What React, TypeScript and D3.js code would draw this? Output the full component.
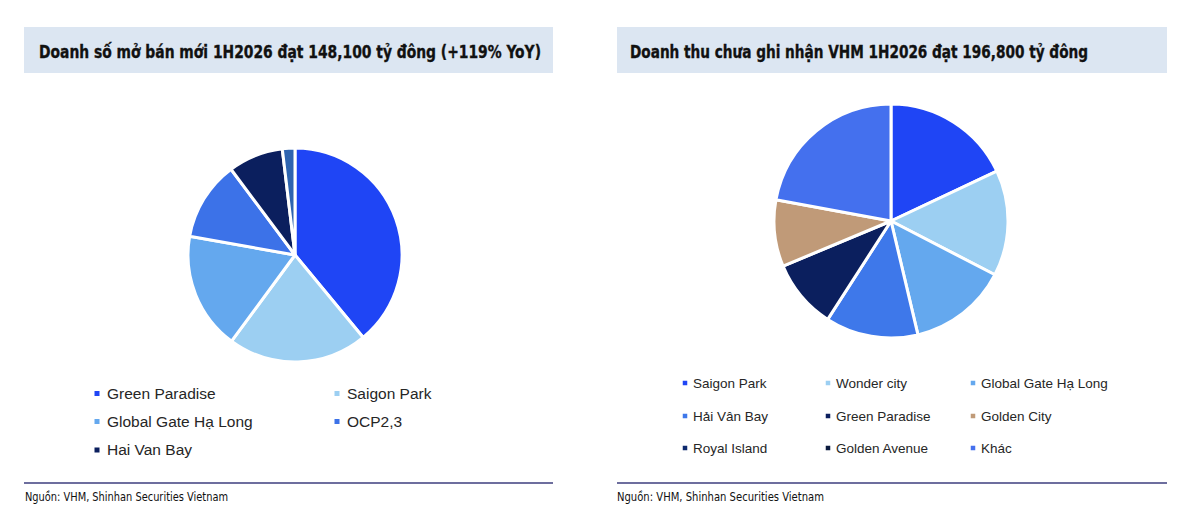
import React from "react";
import * as d3 from "d3";

// ---- Data ----
const leftTitle = "Doanh số mở bán mới 1H2026 đạt 148,100 tỷ đông (+119% YoY)";
const leftLabels = ["Green Paradise", "Saigon Park", "Global Gate Hạ Long", "OCP2,3", "Hai Van Bay", "Khác"];
const leftValues = [39.0, 21.1, 17.7, 12.0, 8.3, 1.9];
const leftColors = ["#1F45F5", "#9CCFF2", "#64A8EE", "#3C72E8", "#0B1F5E", "#2E64B0"];
const leftLegendCount = 5;

const rightTitle = "Doanh thu chưa ghi nhận VHM 1H2026 đạt 196,800 tỷ đông";
const rightLabels = [
  "Saigon Park", "Wonder city", "Global Gate Hạ Long",
  "Hải Vân Bay", "Green Paradise", "Golden City",
  "Royal Island", "Golden Avenue", "Khác",
];
const rightValues = [18.0, 14.6, 13.7, 12.8, 9.6, 9.2, 0, 0, 22.1];
const rightColors = [
  "#1F45F5", "#9CCFF2", "#64A8EE",
  "#3E78EA", "#0B1F5E", "#C09A78",
  "#0E2A6E", "#0B1A3E", "#4470EE",
];

const sourceLeft = "Nguồn: VHM, Shinhan Securities Vietnam";
const sourceRight = "Nguồn:  VHM, Shinhan Securities Vietnam";

type PieProps = { values: number[]; colors: string[]; cx: number; cy: number; r: number; sw: number };

function Pie({ values, colors, cx, cy, r, sw }: PieProps) {
  const pie = d3.pie<number>().value((d) => d).sort(null);
  const arcs = pie(values);
  const arc = d3.arc<d3.PieArcDatum<number>>().innerRadius(0).outerRadius(r);
  return (
    <g transform={`translate(${cx},${cy})`}>
      {arcs.map((a, i) =>
        a.endAngle - a.startAngle > 0 ? (
          <path key={i} d={arc(a) || ""} fill={colors[i]} stroke="#fff" strokeWidth={sw} strokeLinejoin="round" />
        ) : null
      )}
    </g>
  );
}

type LegendProps = {
  labels: string[]; colors: string[]; cols: number; x: number[]; y: number[]; fontSize: number; ms: number; gap: number;
};

function Legend({ labels, colors, cols, x, y, fontSize, ms, gap }: LegendProps) {
  return (
    <g>
      {labels.map((l, i) => {
        const c = i % cols;
        const row = Math.floor(i / cols);
        const lx = x[c];
        const ly = y[row];
        return (
          <g key={i}>
            <rect x={lx - ms / 2} y={ly - ms / 2} width={ms} height={ms} fill={colors[i]} />
            <text x={lx + gap} y={ly} dy="0.35em" fontFamily="Liberation Sans, Arial, sans-serif" fontSize={fontSize} fill="#262626">
              {l}
            </text>
          </g>
        );
      })}
    </g>
  );
}

export default function App() {
  const W = 1200, H = 521;
  const titleFont = "DejaVu Sans Condensed, DejaVu Sans, sans-serif";
  return (
    <svg width={W} height={H} style={{ position: "absolute", left: 0, top: 0, background: "#fff" }}>
      <rect x={0} y={0} width={W} height={H} fill="#fff" />
      {/* Left panel */}
      <rect x={24} y={27} width={529} height={46} fill="#DCE6F2" />
      <text x={39} y={57.5} fontFamily={titleFont} fontWeight="bold" fontSize={18} fill="#111" stroke="#111" strokeWidth={0.35}
        textLength={502} lengthAdjust="spacingAndGlyphs">{leftTitle}</text>
      <Pie values={leftValues} colors={leftColors} cx={295} cy={255} r={107} sw={3} />
      <Legend labels={leftLabels.slice(0, leftLegendCount)} colors={leftColors} cols={2}
        x={[97, 337]} y={[393.5, 421.5, 450]} fontSize={15.5} ms={5} gap={10} />
      <line x1={24} x2={553} y1={483} y2={483} stroke="#6D6E9E" strokeWidth={2} />
      <text x={25} y={501} fontFamily={titleFont} fontSize={12} fill="#111"
        textLength={203} lengthAdjust="spacingAndGlyphs">{sourceLeft}</text>

      {/* Right panel */}
      <rect x={617} y={27} width={550} height={46} fill="#DCE6F2" />
      <text x={630} y={57.5} fontFamily={titleFont} fontWeight="bold" fontSize={18} fill="#111" stroke="#111" strokeWidth={0.35}
        textLength={458} lengthAdjust="spacingAndGlyphs">{rightTitle}</text>
      <Pie values={rightValues} colors={rightColors} cx={891} cy={221} r={117} sw={3} />
      <Legend labels={rightLabels} colors={rightColors} cols={3}
        x={[685, 828, 973]} y={[383, 416, 448]} fontSize={13.5} ms={4.5} gap={8} />
      <line x1={617} x2={1167} y1={483} y2={483} stroke="#6D6E9E" strokeWidth={2} />
      <text x={617} y={501} fontFamily={titleFont} fontSize={12} fill="#111"
        textLength={207} lengthAdjust="spacingAndGlyphs">{sourceRight}</text>
    </svg>
  );
}
